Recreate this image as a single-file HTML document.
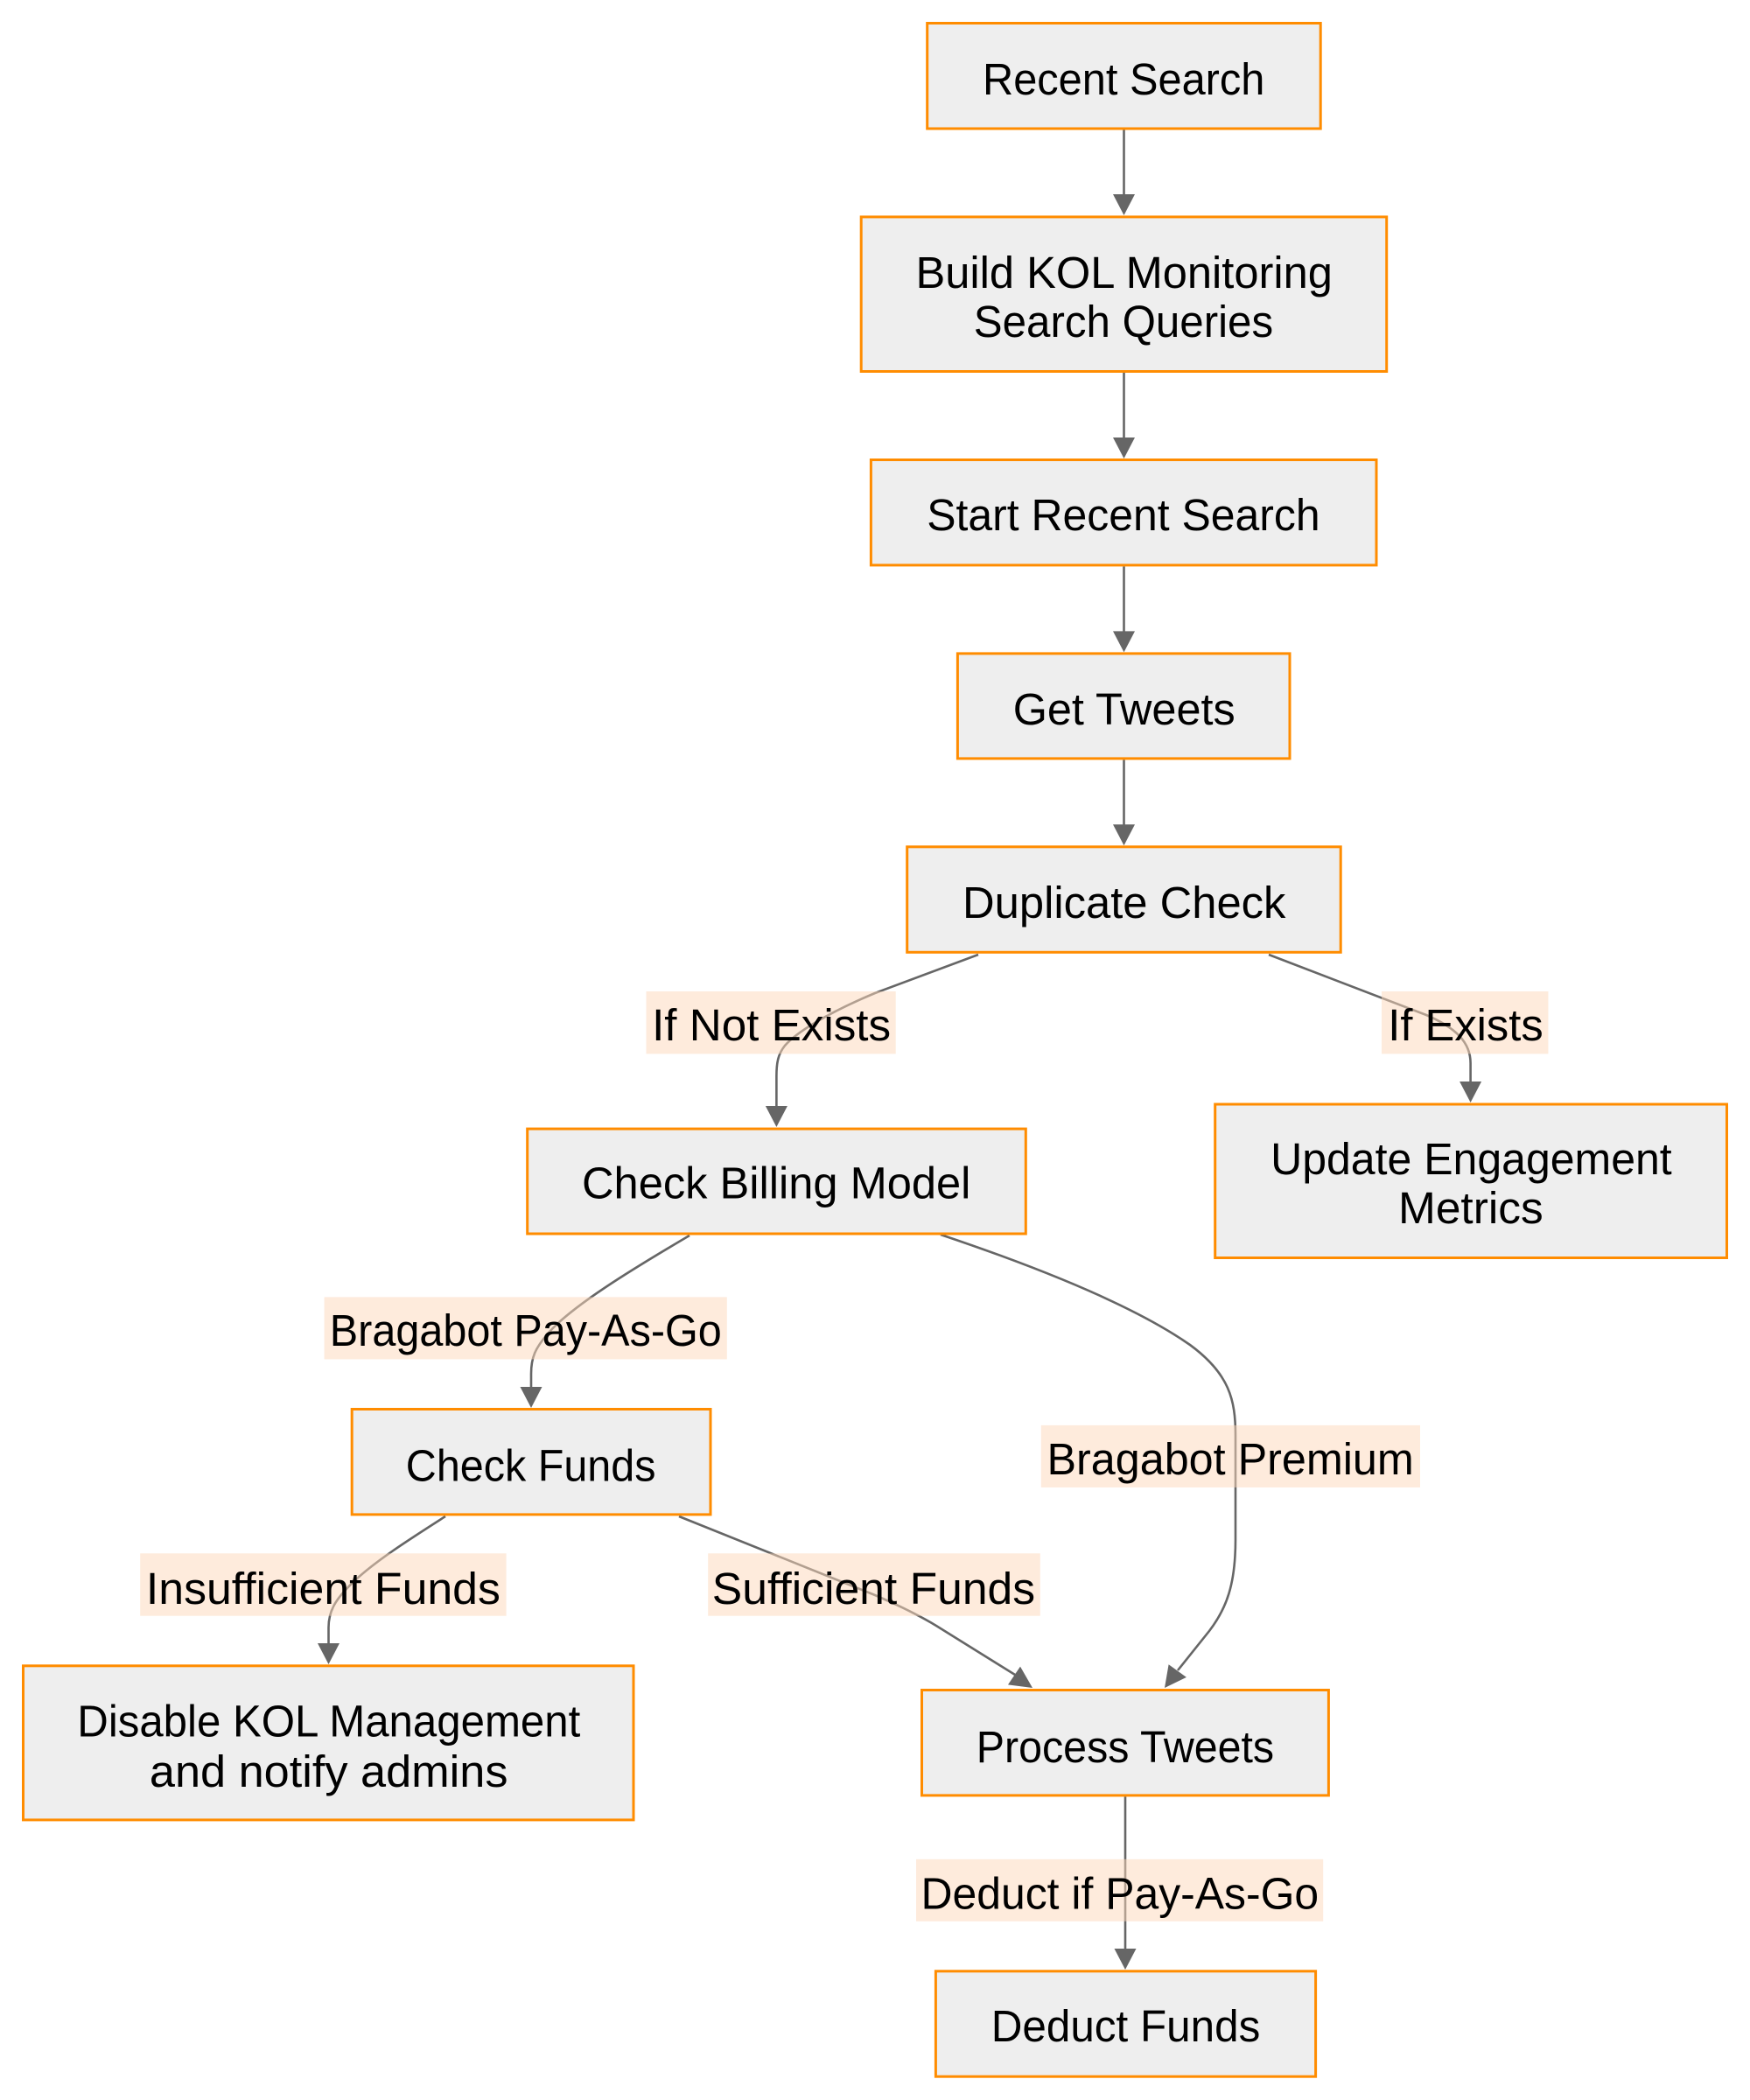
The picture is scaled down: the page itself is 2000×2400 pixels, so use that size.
<!DOCTYPE html>
<html>
<head>
<meta charset="utf-8">
<style>
html,body{margin:0;padding:0;background:#fff;width:2000px;height:2400px;overflow:hidden}
svg{display:block}
text{font-family:"Liberation Sans",Arial,sans-serif;font-size:51px;fill:#000}
</style>
</head>
<body>
<svg width="2000" height="2400" viewBox="0 0 2000 2400" xmlns="http://www.w3.org/2000/svg">
<rect x="0" y="0" width="2000" height="2400" fill="#fff"/>

<!-- Edges -->
<g fill="none" stroke="#666" stroke-width="2.6">
  <path d="M1284.5,148.5 L1284.5,223"/>
  <path d="M1284.5,426 L1284.5,501"/>
  <path d="M1284.5,647.4 L1284.5,722"/>
  <path d="M1284.5,868.4 L1284.5,943"/>
  <!-- Dup -> Billing -->
  <path d="M1118,1091 L1000,1135 C 945,1158 910,1180 897,1195 C 889,1205 887.4,1215 887.4,1230 L887.4,1265"/>
  <!-- Dup -> Update -->
  <path d="M1450,1091 L1630,1160 C 1665,1175 1680.6,1192 1680.6,1215 L1680.6,1237"/>
  <!-- Billing -> Check Funds -->
  <path d="M788,1412 C 720,1452 655,1492 628,1522 C 611,1541 607,1552 607,1570 L607,1586"/>
  <!-- Billing -> Process (Premium) -->
  <path d="M1075,1411 C 1200,1453 1300,1495 1360,1537 C 1405,1570 1412,1600 1412,1640 L1412,1760 C 1412,1810 1402,1838 1382,1864 L1346,1909"/>
  <!-- Check Funds -> Disable -->
  <path d="M509,1733 C 470,1758 432,1782 407,1805 C 382,1828 375.5,1842 375.5,1860 L375.5,1879"/>
  <!-- Check Funds -> Process (Sufficient) -->
  <path d="M776,1733 L1000,1823 C 1030,1836 1050,1846 1070,1858 L1160,1914"/>
  <!-- Process -> Deduct -->
  <path d="M1286,2053.4 L1286,2228"/>
</g>

<!-- Arrowheads -->
<g fill="#666">
  <polygon points="1272,222 1297,222 1284.5,246"/>
  <polygon points="1272,500 1297,500 1284.5,524"/>
  <polygon points="1272,721.4 1297,721.4 1284.5,745.4"/>
  <polygon points="1272,942.3 1297,942.3 1284.5,966.3"/>
  <polygon points="874.9,1264 899.9,1264 887.4,1288"/>
  <polygon points="1668.1,1236 1693.1,1236 1680.6,1260"/>
  <polygon points="594.5,1585 619.5,1585 607,1609"/>
  <polygon points="363,1878 388,1878 375.5,1902"/>
  <polygon points="1273.5,2227 1298.5,2227 1286,2251"/>
  <polygon points="1335.6,1902.2 1355.9,1916.9 1331,1929"/>
  <polygon points="1166.0,1904.6 1152.0,1925.4 1180,1929"/>
</g>

<!-- Nodes -->
<g fill="#EEEEEE" stroke="#FF8C00" stroke-width="3">
  <rect x="1059.7" y="26.5" width="449.5" height="120.5"/>
  <rect x="984.2" y="247.9" width="600.5" height="176.6"/>
  <rect x="995.4" y="525.5" width="577.6" height="120.4"/>
  <rect x="1094.4" y="746.9" width="379.6" height="120"/>
  <rect x="1036.7" y="967.8" width="495.5" height="120.5"/>
  <rect x="602.7" y="1290.1" width="569.6" height="119.9"/>
  <rect x="1388.7" y="1262" width="584.8" height="175.5"/>
  <rect x="402.2" y="1610.5" width="409.8" height="120.4"/>
  <rect x="26.5" y="1903.8" width="697.5" height="176.1"/>
  <rect x="1053.5" y="1931.5" width="464.9" height="120.4"/>
  <rect x="1069.4" y="2252.8" width="434.2" height="120.4"/>
</g>

<!-- Edge label backgrounds -->
<g fill="#FDD7B9" fill-opacity="0.5">
  <rect x="738.5" y="1133" width="285.2" height="71.4"/>
  <rect x="1579" y="1133" width="190.4" height="71.4"/>
  <rect x="370.6" y="1482.4" width="460.2" height="71"/>
  <rect x="1189.8" y="1628.9" width="433.2" height="71"/>
  <rect x="160.2" y="1775.3" width="418.4" height="71.4"/>
  <rect x="809.2" y="1775.3" width="379.6" height="71.4"/>
  <rect x="1047" y="2124.8" width="465.2" height="71"/>
</g>

<!-- Node text -->
<g>
  <text x="1123" y="108.2" textLength="322.4" lengthAdjust="spacingAndGlyphs">Recent Search</text>
  <text x="1046.5" y="329" textLength="476.4" lengthAdjust="spacingAndGlyphs">Build KOL Monitoring</text>
  <text x="1112.8" y="385.2" textLength="342.3" lengthAdjust="spacingAndGlyphs">Search Queries</text>
  <text x="1059.2" y="606.1" textLength="449.4" lengthAdjust="spacingAndGlyphs">Start Recent Search</text>
  <text x="1157.7" y="828.1" textLength="254" lengthAdjust="spacingAndGlyphs">Get Tweets</text>
  <text x="1100" y="1049" textLength="369.4" lengthAdjust="spacingAndGlyphs">Duplicate Check</text>
  <text x="665" y="1369.7" textLength="444.4" lengthAdjust="spacingAndGlyphs">Check Billing Model</text>
  <text x="1452.1" y="1342" textLength="458.6" lengthAdjust="spacingAndGlyphs">Update Engagement</text>
  <text x="1598" y="1397.8" textLength="165.7" lengthAdjust="spacingAndGlyphs">Metrics</text>
  <text x="463.8" y="1692.7" textLength="285.7" lengthAdjust="spacingAndGlyphs">Check Funds</text>
  <text x="88.3" y="1984.5" textLength="575" lengthAdjust="spacingAndGlyphs">Disable KOL Management</text>
  <text x="170.9" y="2042.1" textLength="409.6" lengthAdjust="spacingAndGlyphs">and notify admins</text>
  <text x="1115.8" y="2014.1" textLength="340.3" lengthAdjust="spacingAndGlyphs">Process Tweets</text>
  <text x="1132.7" y="2333" textLength="307.6" lengthAdjust="spacingAndGlyphs">Deduct Funds</text>
</g>

<!-- Edge label text -->
<g>
  <text x="745.1" y="1189.1" textLength="273" lengthAdjust="spacingAndGlyphs">If Not Exists</text>
  <text x="1586.3" y="1189.1" textLength="177.4" lengthAdjust="spacingAndGlyphs">If Exists</text>
  <text x="376.8" y="1538" textLength="448" lengthAdjust="spacingAndGlyphs">Bragabot Pay-As-Go</text>
  <text x="1196.5" y="1685" textLength="419.3" lengthAdjust="spacingAndGlyphs">Bragabot Premium</text>
  <text x="166.9" y="1833" textLength="405" lengthAdjust="spacingAndGlyphs">Insufficient Funds</text>
  <text x="813.8" y="1833" textLength="369.3" lengthAdjust="spacingAndGlyphs">Sufficient Funds</text>
  <text x="1052.5" y="2181.4" textLength="454.6" lengthAdjust="spacingAndGlyphs">Deduct if Pay-As-Go</text>
</g>
</svg>
</body>
</html>
